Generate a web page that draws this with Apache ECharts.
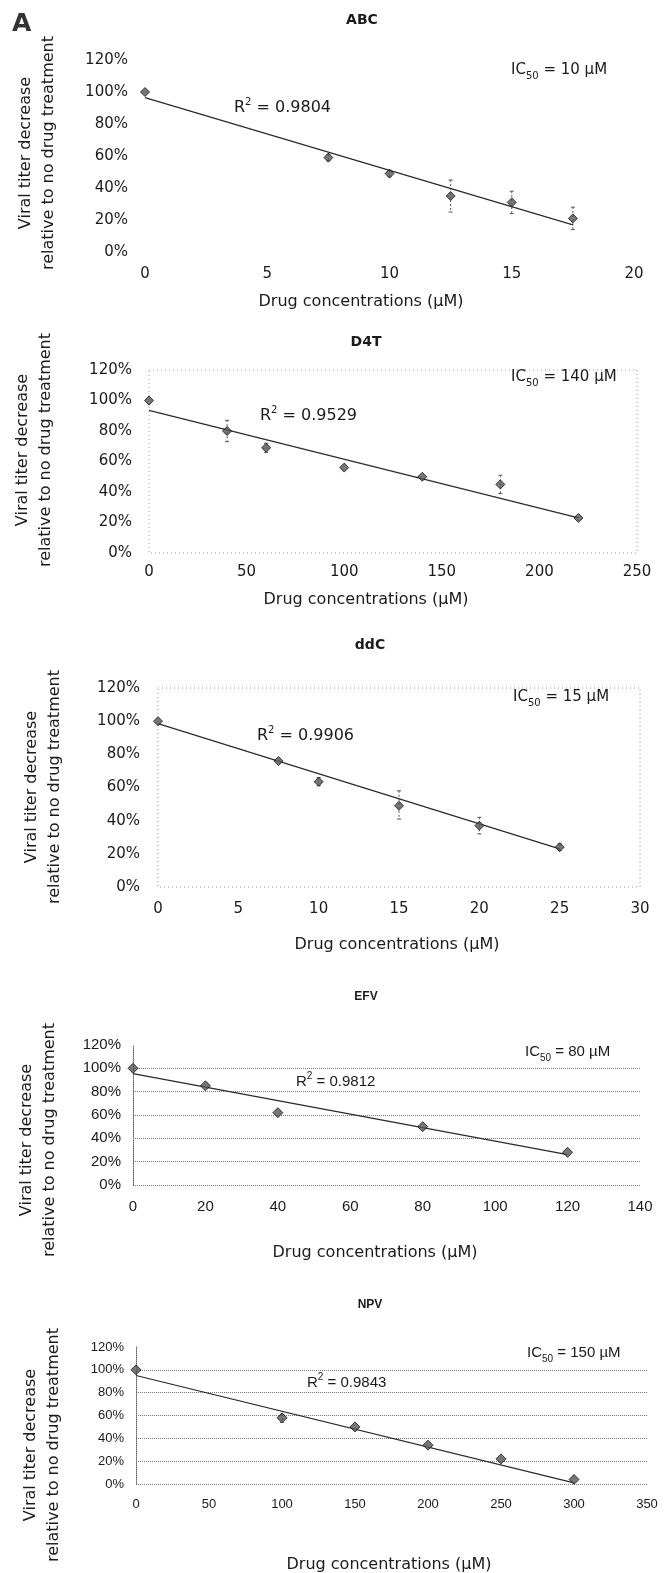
<!DOCTYPE html>
<html>
<head>
<meta charset="utf-8">
<title>Viral titer decrease vs drug concentration</title>
<script src="https://cdn.jsdelivr.net/npm/echarts@6/dist/echarts.min.js"></script>
<style>
    html, body { margin: 0; padding: 0; background: #fff; }
    #main { width: 668px; height: 1573px; }
</style>
</head>
<body>
<div id="main"></div>
<script>
// values (viral titer, % of no-drug control)
var abcConc = [0, 7.5, 10, 12.5, 15, 17.5];
var abcTiter = [100, 59, 49, 35, 31, 21];
var abcLow = [null, 57, 47, 25, 24, 14];
var abcHigh = [null, 61, 51, 45, 38, 28];
var abcFitX = [0, 17.5];
var abcFitY = [96.5, 17];

var d4tConc = [0, 40, 60, 100, 140, 180, 220];
var d4tTiter = [100, 80, 69, 56, 50, 45, 23];
var d4tLow = [null, 73, 66, null, null, 39, null];
var d4tHigh = [null, 87, 72, null, null, 51, null];
var d4tFitX = [0, 220];
var d4tFitY = [93.5, 23];

var ddcConc = [0, 7.5, 10, 15, 20, 25];
var ddcTiter = [100, 76, 63.5, 49, 37, 24];
var ddcLow = [null, null, 61, 41, 32, 22];
var ddcHigh = [null, null, 66, 58, 42, 26];
var ddcFitX = [0, 25];
var ddcFitY = [98.5, 23];

var efvConc = [0, 20, 40, 80, 120];
var efvTiter = [100, 85, 62, 50, 28];
var efvLow = [null, null, null, null, null];
var efvHigh = [null, null, null, null, null];
var efvFitX = [0, 120];
var efvFitY = [95.5, 26];

var npvConc = [0, 100, 150, 200, 250, 300];
var npvTiter = [100, 58, 50, 34, 22, 4];
var npvLow = [null, 54, null, null, null, null];
var npvHigh = [null, 61, null, null, null, null];
var npvFitX = [0, 300];
var npvFitY = [95, 1];

var drugNames = ['ABC', 'D4T', 'ddC', 'EFV', 'NPV'];
var ic50Text = ['10', '140', '15', '80', '150'];
var r2Text = ['0.9804', '0.9529', '0.9906', '0.9812', '0.9843'];
var xMaxes = [20, 250, 30, 140, 350];
var xSteps = [5, 50, 5, 20, 50];

var yLabel = 'Viral titer decrease\nrelative to no drug treatment';
var xLabel = 'Drug concentrations (\u00b5M)';

// layout of each panel (pixels)
var panels = [
    { conc: abcConc, titer: abcTiter, low: abcLow, high: abcHigh, fx: abcFitX, fy: abcFitY,
      grid: { left: 145, top: 60, width: 489, height: 192 }, frame: 'none',
      font: 'DejaVu Sans', tick: 15, xMargin: 15, yMargin: 17,
      title: [362, 20], ic: [511, 70], r2: [234, 108], yl: [37, 153], xl: [361, 302] },
    { conc: d4tConc, titer: d4tTiter, low: d4tLow, high: d4tHigh, fx: d4tFitX, fy: d4tFitY,
      grid: { left: 149, top: 370, width: 488, height: 183 }, frame: 'box',
      font: 'DejaVu Sans', tick: 15, xMargin: 12, yMargin: 17,
      title: [366, 342], ic: [511, 377], r2: [260, 416], yl: [34, 450], xl: [366, 600] },
    { conc: ddcConc, titer: ddcTiter, low: ddcLow, high: ddcHigh, fx: ddcFitX, fy: ddcFitY,
      grid: { left: 158, top: 688, width: 482, height: 199 }, frame: 'box',
      font: 'DejaVu Sans', tick: 15, xMargin: 15, yMargin: 18,
      title: [370, 645], ic: [513, 697], r2: [257, 736], yl: [43, 787], xl: [397, 945] },
    { conc: efvConc, titer: efvTiter, low: efvLow, high: efvHigh, fx: efvFitX, fy: efvFitY,
      grid: { left: 133, top: 1045, width: 507, height: 140 }, frame: 'grid',
      font: 'Liberation Sans', tick: 15, xMargin: 14, yMargin: 12,
      title: [366, 997], ic: [525, 1052], r2: [296, 1082], yl: [38, 1140], xl: [375, 1253] },
    { conc: npvConc, titer: npvTiter, low: npvLow, high: npvHigh, fx: npvFitX, fy: npvFitY,
      grid: { left: 136, top: 1347, width: 511, height: 137 }, frame: 'grid',
      font: 'Liberation Sans', tick: 13, xMargin: 14, yMargin: 12,
      title: [370, 1305], ic: [527, 1353], r2: [307, 1383], yl: [42, 1445], xl: [389, 1565] }
];

var textColor = '#1a1a1a';

function errorBar(params, api) {
    var x = api.value(0);
    var top = api.coord([x, api.value(2)]);
    var bot = api.coord([x, api.value(1)]);
    var st = { stroke: '#555', lineWidth: 1, lineDash: [2, 2] };
    return {
        type: 'group',
        children: [
            { type: 'line', shape: { x1: top[0], y1: top[1], x2: bot[0], y2: bot[1] }, style: st },
            { type: 'line', shape: { x1: top[0] - 2, y1: top[1], x2: top[0] + 2, y2: top[1] }, style: { stroke: '#555', lineWidth: 1 } },
            { type: 'line', shape: { x1: bot[0] - 2, y1: bot[1], x2: bot[0] + 2, y2: bot[1] }, style: { stroke: '#555', lineWidth: 1 } }
        ]
    };
}

var grids = [], xAxes = [], yAxes = [], series = [], graphics = [];

// panel letter
graphics.push({ type: 'text', x: 12, y: 12, style: { text: 'A', fontSize: 25, fontWeight: 'bold', fontFamily: 'DejaVu Sans', fill: '#333' } });

for (var i = 0; i < panels.length; i++) {
    var p = panels[i];
    var grid = p.grid;
    var isGrid = p.frame == 'grid';
    grids.push({ left: grid.left, top: grid.top, width: grid.width, height: grid.height, containLabel: false });

    xAxes.push({
        type: 'value', gridIndex: i, min: 0, max: xMaxes[i], interval: xSteps[i],
        axisLine: { show: false }, axisTick: { show: false }, splitLine: { show: false },
        axisLabel: { margin: p.xMargin, color: textColor, fontSize: p.tick, fontFamily: p.font }
    });
    yAxes.push({
        type: 'value', gridIndex: i, min: 0, max: 120, interval: 20,
        axisLine: { show: isGrid, lineStyle: { type: 'dotted', color: '#666' } },
        axisTick: { show: false },
        splitLine: { show: isGrid, showMaxLine: false, lineStyle: { type: 'dotted', color: '#777', width: 1 } },
        axisLabel: { margin: p.yMargin, color: textColor, fontSize: p.tick, fontFamily: p.font, formatter: '{value}%' }
    });

    // error bars
    var err = [];
    for (var k = 0; k < p.conc.length; k++) {
        if (p.low[k] != null) err.push([p.conc[k], p.low[k], p.high[k]]);
    }
    if (err.length) {
        series.push({ type: 'custom', xAxisIndex: i, yAxisIndex: i, renderItem: errorBar, data: err, z: 1, silent: true });
    }

    // linear trendline
    series.push({
        type: 'line', xAxisIndex: i, yAxisIndex: i, symbol: 'none', z: 2, silent: true,
        data: [[p.fx[0], p.fy[0]], [p.fx[1], p.fy[1]]],
        lineStyle: { color: '#2a2a2a', width: 1.2 }
    });

    series.push({
        type: 'scatter', name: drugNames[i], xAxisIndex: i, yAxisIndex: i, z: 3,
        symbol: 'diamond', symbolSize: isGrid ? 10 : 9,
        data: p.conc.map(function(c, k) { return [c, this[k]]; }, p.titer),
        itemStyle: { color: '#555', borderColor: '#151515', borderWidth: 1 }
    });

    if (p.frame == 'box') {
        graphics.push({
            type: 'rect', silent: true, z: 0,
            shape: { x: grid.left, y: grid.top, width: grid.width, height: grid.height },
            style: { fill: 'none', stroke: '#9a9a9a', lineWidth: 1, lineDash: [1, 3] }
        });
    }

    // titles and annotations
    var small = isGrid;
    graphics.push({ type: 'text', x: p.title[0], y: p.title[1],
        style: { text: drugNames[i], align: 'center', verticalAlign: 'middle', fontSize: small ? 12 : 14, fontWeight: 'bold',
                 fontFamily: small ? 'Liberation Sans' : 'DejaVu Sans', fill: textColor } });
    graphics.push({ type: 'text', x: p.ic[0], y: p.ic[1],
        style: { text: '{n|IC}{sub|50}{n| = ' + ic50Text[i] + ' \u00b5M}', verticalAlign: 'middle', fill: textColor,
                 rich: { n: { fontSize: 15, lineHeight: 22, fontFamily: p.font, fill: textColor },
                         sub: { fontSize: 10, lineHeight: 10, verticalAlign: 'bottom', fontFamily: p.font, fill: textColor } } } });
    graphics.push({ type: 'text', x: p.r2[0], y: p.r2[1],
        style: { text: '{n|R}{sup|2}{n| = ' + r2Text[i] + '}', verticalAlign: 'middle', fill: textColor,
                 rich: { n: { fontSize: small ? 15 : 16, lineHeight: 22, fontFamily: p.font, fill: textColor },
                         sup: { fontSize: 10, lineHeight: 10, verticalAlign: 'top', fontFamily: p.font, fill: textColor } } } });
    graphics.push({ type: 'text', x: p.yl[0], y: p.yl[1], rotation: Math.PI / 2,
        style: { text: yLabel, align: 'center', verticalAlign: 'middle', fontSize: 16, lineHeight: 23,
                 fontFamily: 'DejaVu Sans', fill: textColor } });
    graphics.push({ type: 'text', x: p.xl[0], y: p.xl[1],
        style: { text: xLabel, align: 'center', verticalAlign: 'middle', fontSize: 16,
                 fontFamily: 'DejaVu Sans', fill: textColor } });
}

var chart = echarts.init(document.getElementById('main'));
chart.setOption({
    animation: false,
    backgroundColor: '#fff',
    grid: grids,
    xAxis: xAxes,
    yAxis: yAxes,
    series: series,
    graphic: graphics
});
</script>
</body>
</html>
